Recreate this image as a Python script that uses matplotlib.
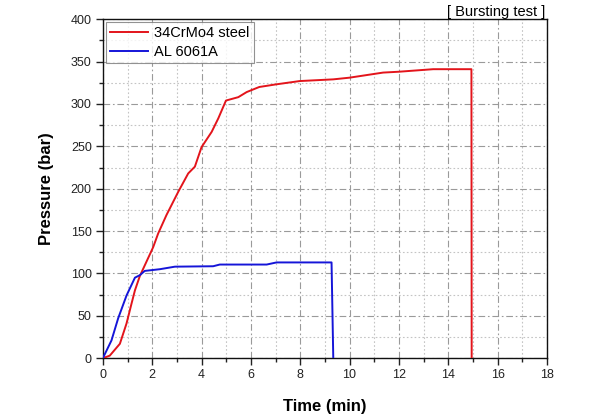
import matplotlib
matplotlib.use("Agg")
import matplotlib.pyplot as plt
from matplotlib.ticker import MultipleLocator

plt.rcParams['font.family'] = ['Liberation Sans', 'DejaVu Sans']

steel_t = [0, 0.28, 0.69, 0.96, 1.15, 1.3, 1.5, 1.77, 2.04, 2.24, 2.58, 2.72, 3.05, 3.46, 3.73, 4.0, 4.41, 4.68, 4.99, 5.49, 5.83, 6.34, 7.0, 7.98, 9.34, 10.0, 11.36, 12.0, 13.39, 14.94, 14.95]
steel_p = [0, 3, 17, 41, 63, 80, 97, 114, 131, 147, 169, 177, 196, 218, 226, 249, 267, 283, 304, 308, 314, 320, 323, 327, 329, 331, 337, 338, 341, 341, 0]

al_t = [0, 0.35, 0.62, 0.96, 1.3, 1.5, 1.7, 2.31, 2.92, 4.47, 4.74, 6.64, 7.04, 9.27, 9.34]
al_p = [0, 21, 47, 74, 95, 98, 103, 105, 108, 108.5, 110.5, 110.5, 113, 113, 0]

fig = plt.figure(figsize=(6.05, 4.17), dpi=100)
ax = fig.add_axes([0.170, 0.141, 0.734, 0.813])

ax.plot(steel_t, steel_p, color='#e3141b', lw=1.4, label='34CrMo4 steel', zorder=3)
ax.plot(al_t, al_p, color='#1515d8', lw=1.4, label='AL 6061A', zorder=3)

ax.set_xlim(0, 18)
ax.set_ylim(0, 400)
ax.xaxis.set_major_locator(MultipleLocator(2))
ax.xaxis.set_minor_locator(MultipleLocator(1))
ax.yaxis.set_major_locator(MultipleLocator(50))
ax.yaxis.set_minor_locator(MultipleLocator(25))

ax.grid(which='major', color='#9a9a9a', linestyle=(0, (6, 2.5, 1.5, 2.5)), lw=0.8)
ax.grid(which='minor', color='#c4c4c4', linestyle=(0, (1.5, 2)), lw=0.8)
ax.set_axisbelow(True)

ax.tick_params(which='major', direction='out', length=5, width=1, labelsize=9, colors='#222222', pad=3)
ax.tick_params(which='minor', direction='out', length=3, width=1, colors='#222222')
ax.tick_params(top=False, right=False)
for s in ax.spines.values():
    s.set_color('#111111')
    s.set_linewidth(1.0)

ax.set_xlabel('Time (min)', fontsize=12, fontweight='bold', labelpad=13)
ax.set_ylabel('Pressure (bar)', fontsize=12, fontweight='bold', labelpad=12)

leg = ax.legend(loc='upper left', fontsize=10.5, handlelength=2.6, frameon=True, fancybox=False,
                borderaxespad=0.2, borderpad=0.3, labelspacing=0.3, handletextpad=0.4)
leg.get_frame().set_edgecolor('#777777')
leg.get_frame().set_linewidth(0.8)

fig.text(0.901, 0.987, '[ Bursting test ]', ha='right', va='top', fontsize=10.5)

fig.savefig('out.png', dpi=100)
